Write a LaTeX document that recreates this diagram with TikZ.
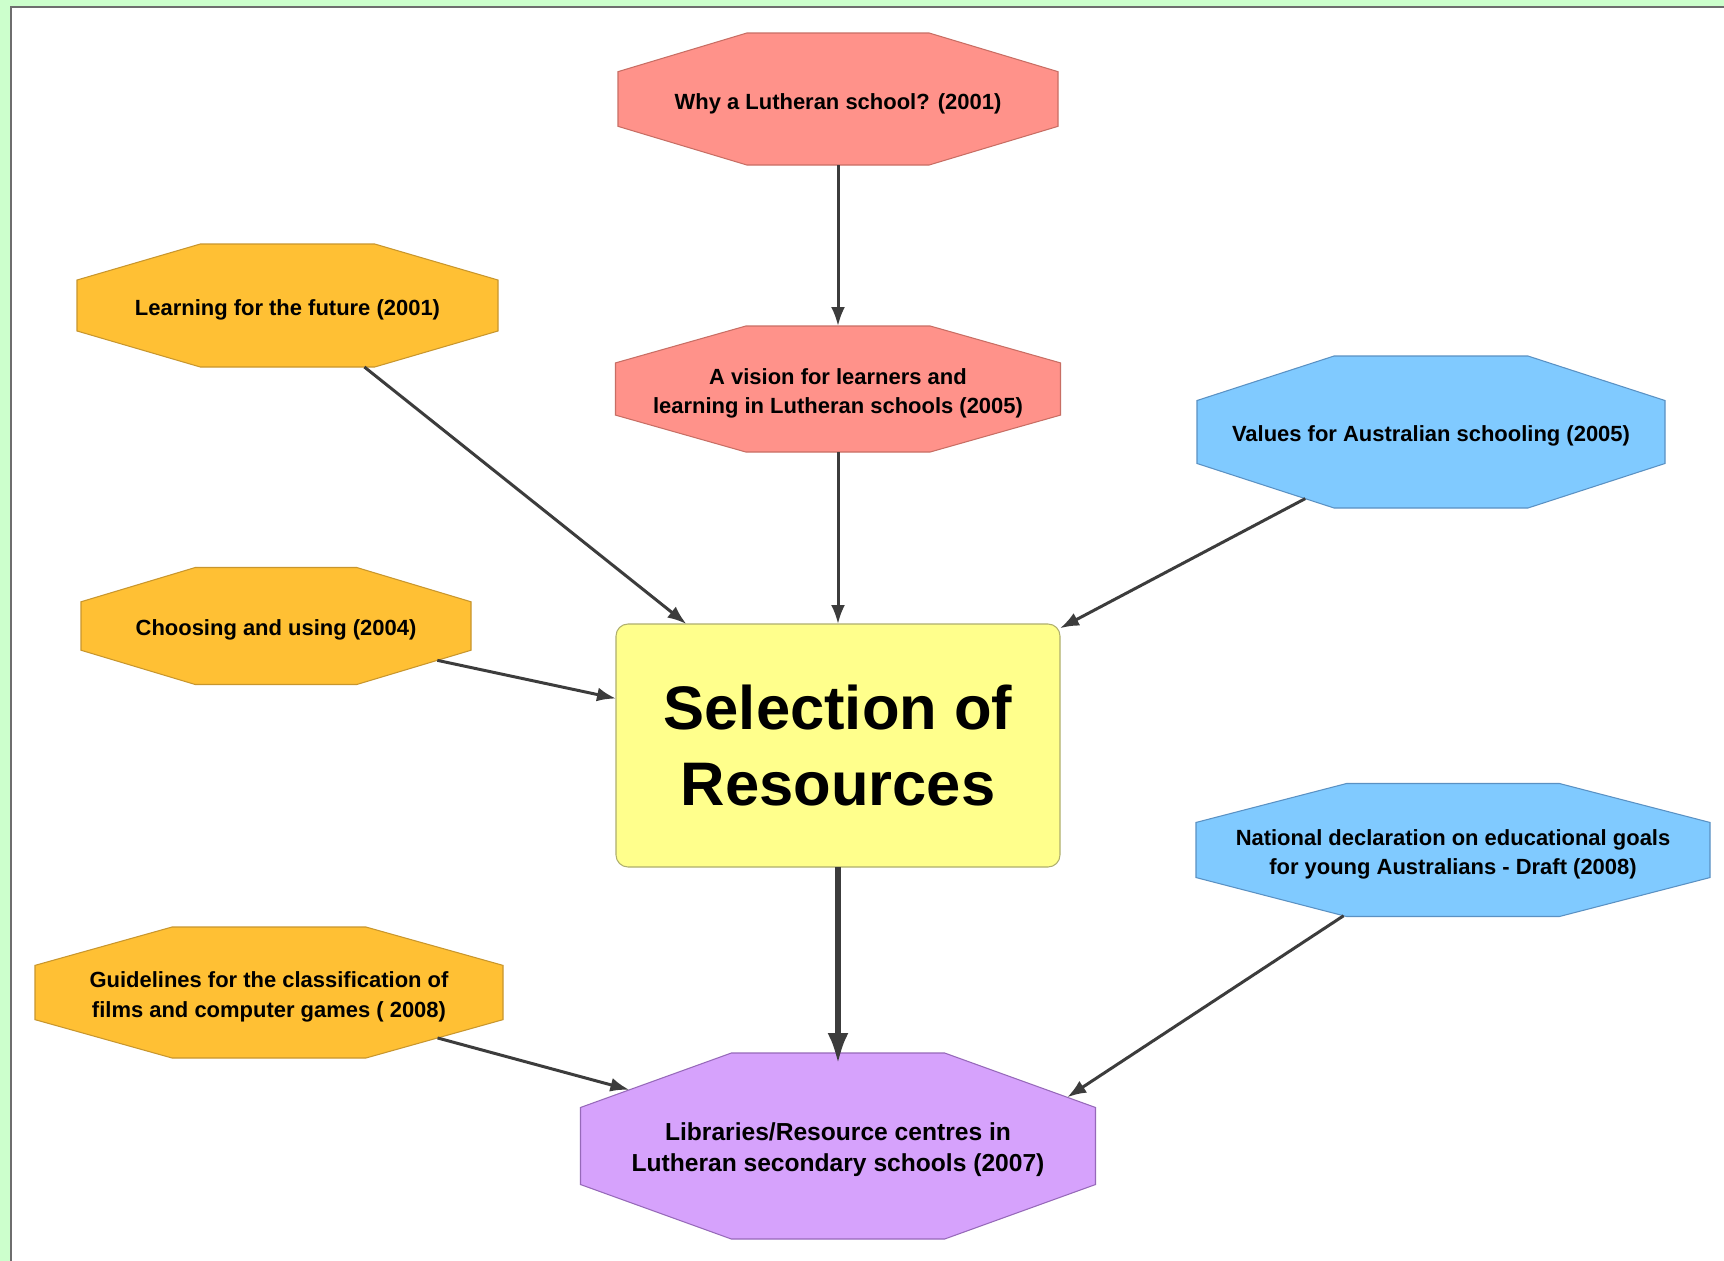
\documentclass[tikz,border=0pt]{standalone}
\usepackage{fontspec}
\setmainfont{Liberation Sans}
\usetikzlibrary{arrows.meta,shapes,positioning}

\definecolor{bggreen}{RGB}{204,255,204}
\definecolor{framegray}{RGB}{110,110,110}
\definecolor{redfill}{RGB}{255,146,138}
\definecolor{reddraw}{RGB}{200,110,100}
\definecolor{orangefill}{RGB}{255,192,52}
\definecolor{orangedraw}{RGB}{200,150,45}
\definecolor{bluefill}{RGB}{128,202,255}
\definecolor{bluedraw}{RGB}{90,145,195}
\definecolor{purplefill}{RGB}{214,162,252}
\definecolor{purpledraw}{RGB}{150,105,185}
\definecolor{yellowfill}{RGB}{255,255,140}
\definecolor{yellowdraw}{RGB}{175,175,110}
\definecolor{arrowgray}{RGB}{60,60,60}

% stretched regular octagon: corners cut at 0.2929 of width and height
\makeatletter
\pgfdeclareshape{octagon box}{%
  \inheritsavedanchors[from=rectangle]%
  \inheritanchor[from=rectangle]{center}%
  \inheritanchor[from=rectangle]{north}%
  \inheritanchor[from=rectangle]{south}%
  \inheritanchor[from=rectangle]{east}%
  \inheritanchor[from=rectangle]{west}%
  \inheritanchor[from=rectangle]{text}%
  \inheritanchor[from=rectangle]{base}%
  \backgroundpath{%
    \southwest \pgf@xa=\pgf@x \pgf@ya=\pgf@y
    \northeast \pgf@xb=\pgf@x \pgf@yb=\pgf@y
    \pgf@xc=\pgf@xb \advance\pgf@xc by-\pgf@xa \pgf@xc=0.29289\pgf@xc
    \pgf@yc=\pgf@yb \advance\pgf@yc by-\pgf@ya \pgf@yc=0.29289\pgf@yc
    \edef\oct@l{\the\pgf@xa}\edef\oct@r{\the\pgf@xb}%
    \edef\oct@b{\the\pgf@ya}\edef\oct@t{\the\pgf@yb}%
    \advance\pgf@xa by\pgf@xc \advance\pgf@xb by-\pgf@xc
    \advance\pgf@ya by\pgf@yc \advance\pgf@yb by-\pgf@yc
    \edef\oct@li{\the\pgf@xa}\edef\oct@ri{\the\pgf@xb}%
    \edef\oct@bi{\the\pgf@ya}\edef\oct@ti{\the\pgf@yb}%
    \pgfpathmoveto{\pgfqpoint{\oct@li}{\oct@t}}%
    \pgfpathlineto{\pgfqpoint{\oct@ri}{\oct@t}}%
    \pgfpathlineto{\pgfqpoint{\oct@r}{\oct@ti}}%
    \pgfpathlineto{\pgfqpoint{\oct@r}{\oct@bi}}%
    \pgfpathlineto{\pgfqpoint{\oct@ri}{\oct@b}}%
    \pgfpathlineto{\pgfqpoint{\oct@li}{\oct@b}}%
    \pgfpathlineto{\pgfqpoint{\oct@l}{\oct@bi}}%
    \pgfpathlineto{\pgfqpoint{\oct@l}{\oct@ti}}%
    \pgfpathclose
  }%
  \anchorborder{%
    \pgf@xb=\pgf@x \pgf@yb=\pgf@y
    \southwest \pgf@xa=\pgf@x \pgf@ya=\pgf@y
    \northeast
    \advance\pgf@x by-\pgf@xa \advance\pgf@y by-\pgf@ya
    \pgf@xc=.5\pgf@x \pgf@yc=.5\pgf@y
    \advance\pgf@xa by\pgf@xc \advance\pgf@ya by\pgf@yc
    \edef\oct@cx{\the\pgf@xa}\edef\oct@cy{\the\pgf@ya}%
    \edef\oct@hw{\the\pgf@xc}\edef\oct@hh{\the\pgf@yc}%
    \edef\pgf@marshal{\noexpand\pgfpointborderrectangle
      {\noexpand\pgfqpoint{\the\pgf@xb}{\the\pgf@yb}}%
      {\noexpand\pgfqpoint{\the\pgf@xc}{\the\pgf@yc}}}%
    \pgf@process{\pgf@marshal}%
    \edef\oct@px{\the\pgf@x}\edef\oct@py{\the\pgf@y}%
    \pgfmathsetmacro\oct@s{abs(\oct@px)/\oct@hw + abs(\oct@py)/\oct@hh}%
    \pgfmathsetmacro\oct@f{min(1, 1.41421/\oct@s)}%
    \pgf@x=\oct@px \pgf@y=\oct@py
    \pgf@x=\oct@f\pgf@x \pgf@y=\oct@f\pgf@y
    \advance\pgf@x by\oct@cx \advance\pgf@y by\oct@cy
  }%
}
\makeatother

% pushes the first line down a little, as in the drawing
\newcommand{\lowtext}{\rule{0pt}{14pt}}

\tikzstyle{octa} = [
  octagon box, draw, line width=0.6pt, align=center,
  inner sep=0pt, outer sep=0pt, font=\fontsize{12.5}{17}\selectfont\bfseries
]
\tikzset{
  octsize/.style 2 args={minimum width=#1, minimum height=#2},
  conn/.style={-{Latex[length=0.38cm,width=0.28cm]}, line width=1.7pt, draw=arrowgray}
}

\begin{document}
\begin{tikzpicture}
    \useasboundingbox (0,0) rectangle (34.48,-25.22);
    \fill[bggreen] (0,0) rectangle (34.48,-25.22);
    \draw[fill=white, draw=framegray, line width=0.05cm] (0.22,-0.14) rectangle (34.6,-25.4);

    \node[rectangle, rounded corners=0.24cm, fill=yellowfill, draw=yellowdraw,
      line width=0.6pt, minimum width=8.88cm, minimum height=4.86cm, align=center,
      outer sep=0pt, font=\fontsize{35}{43}\selectfont\bfseries] (sel) at (16.76,-14.91)
      {Selection of\\Resources};

    \node[octa, octsize={8.9cm}{2.52cm}, fill=redfill, draw=reddraw,
      above=3.44cm of sel] (vision)
      {\lowtext A vision for learners and\\learning in Lutheran schools (2005)};
    \node[octa, octsize={8.8cm}{2.64cm}, fill=redfill, draw=reddraw,
      above=3.22cm of vision] (why) {\lowtext Why a Lutheran school? (2001)};
    \node[octa, octsize={10.3cm}{3.72cm}, fill=purplefill, draw=purpledraw,
      font=\fontsize{14}{17.6}\selectfont\bfseries, below=3.72cm of sel] (libs)
      {\lowtext Libraries/Resource centres in\\Lutheran secondary schools (2007)};

    \node[octa, octsize={8.42cm}{2.46cm}, fill=orangefill, draw=orangedraw]
      (learn) at (5.75,-6.11) {\lowtext Learning for the future (2001)};
    \node[octa, octsize={7.8cm}{2.34cm}, fill=orangefill, draw=orangedraw]
      (choose) at (5.52,-12.52) {\lowtext Choosing and using (2004)};
    \node[octa, octsize={9.36cm}{2.62cm}, fill=orangefill, draw=orangedraw]
      (guide) at (5.38,-19.85)
      {\lowtext Guidelines for the classification of\\films and computer games ( 2008)};
    \node[octa, octsize={9.36cm}{3.04cm}, fill=bluefill, draw=bluedraw]
      (values) at (28.62,-8.64) {\lowtext Values for Australian schooling (2005)};
    \node[octa, octsize={10.28cm}{2.66cm}, fill=bluefill, draw=bluedraw]
      (national) at (29.06,-17.0)
      {\lowtext National declaration on educational goals\\for young Australians - Draft (2008)};

    \draw[conn] (why) -- (vision);
    \draw[conn] (vision) -- (sel);
    \draw[conn] (learn) -- (sel);
    \draw[conn] (choose) -- (sel);
    \draw[conn] (values) -- (sel);
    \draw[conn, line width=3.2pt, -{Latex[length=0.62cm,width=0.42cm]},
      shorten >=-0.22cm] (sel) -- (libs);
    \draw[conn] (guide) -- (libs);
    \draw[conn] (national.211.8) -- (libs.12.8);
  \end{tikzpicture}
\end{document}
